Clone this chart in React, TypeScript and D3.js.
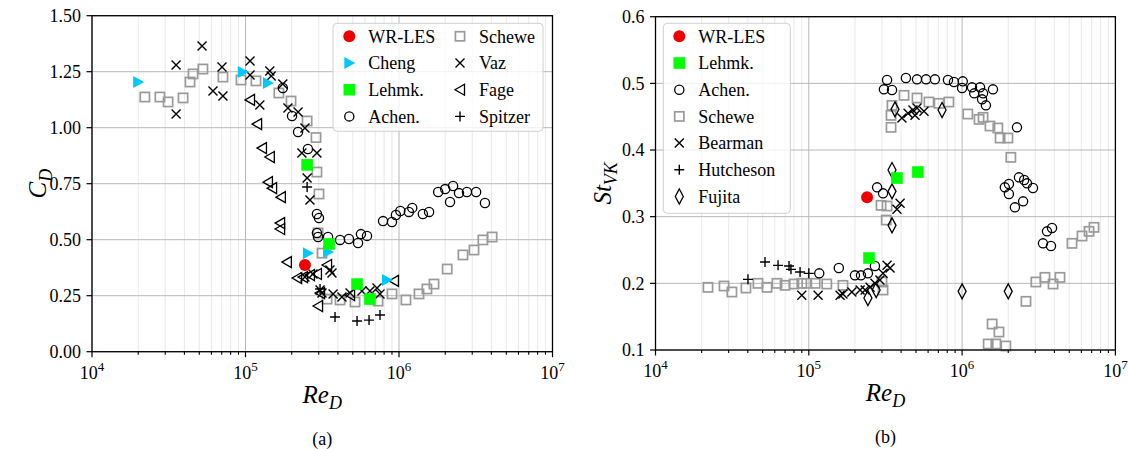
import * as d3 from 'd3';
import React from 'react';

type Pt = [number, number];

// ---------- (a) drag coefficient C_D vs Re_D
const cdWrLes: Pt[] = [[2.44e5, 0.387]];
const cdCheng: Pt[] = [[2.0e4, 1.204], [9.6e4, 1.249], [1.4e5, 1.2], [2.55e5, 0.44], [3.45e5, 0.445], [8.35e5, 0.32]];
const cdLehmk: Pt[] = [[2.52e5, 0.834], [3.5e5, 0.481], [5.33e5, 0.302], [6.47e5, 0.235]];
const cdAchen: Pt[] = [
  [1.75e5, 1.177], [2.01e5, 1.052], [2.2e5, 0.981], [2.55e5, 0.905], [2.92e5, 0.615], [3.01e5, 0.597],
  [2.92e5, 0.53], [2.97e5, 0.512], [3.45e5, 0.512], [4.13e5, 0.499], [4.72e5, 0.503], [5.41e5, 0.485],
  [5.65e5, 0.525], [6.19e5, 0.517], [7.87e5, 0.583], [9.0e5, 0.579], [9.55e5, 0.61], [1.02e6, 0.628],
  [1.16e6, 0.624], [1.22e6, 0.642], [1.43e6, 0.615], [1.57e6, 0.624], [1.8e6, 0.713], [2.0e6, 0.726],
  [2.25e6, 0.74], [2.15e6, 0.668], [2.46e6, 0.708], [2.77e6, 0.713], [3.18e6, 0.713], [3.63e6, 0.664],
];
const cdSchewe: Pt[] = [
  [2.21e4, 1.137], [2.77e4, 1.137], [3.13e4, 1.115], [3.92e4, 1.133], [4.35e4, 1.204], [4.55e4, 1.24],
  [5.28e4, 1.262], [7.13e4, 1.226], [9.35e4, 1.213], [1.17e5, 1.209], [1.65e5, 1.155], [1.98e5, 1.119],
  [2.52e5, 1.03], [2.88e5, 0.956], [2.92e5, 0.802], [3.01e5, 0.704], [2.97e5, 0.53], [3.15e5, 0.44],
  [3.4e5, 0.235], [4.13e5, 0.231], [5.17e5, 0.222], [7.3e5, 0.226], [9.0e5, 0.258], [1.11e6, 0.231],
  [1.35e6, 0.258], [1.52e6, 0.28], [1.69e6, 0.302], [2.06e6, 0.369], [2.61e6, 0.432], [3.08e6, 0.454],
  [3.52e6, 0.499], [4.04e6, 0.512],
];
const cdVaz: Pt[] = [
  [3.53e4, 1.28], [3.53e4, 1.061], [5.21e4, 1.365], [6.14e4, 1.164], [7.03e4, 1.271], [7.13e4, 1.142],
  [1.07e5, 1.298], [1.07e5, 1.235], [1.24e5, 1.101], [1.44e5, 1.253], [1.47e5, 1.231], [1.75e5, 1.195],
  [1.89e5, 1.088], [2.2e5, 1.07], [2.44e5, 0.999], [2.33e5, 0.887], [2.92e5, 0.887], [2.52e5, 0.775],
  [2.63e5, 0.677], [2.44e5, 0.333], [2.75e5, 0.347], [3.55e5, 0.365], [3.66e5, 0.351], [3.06e5, 0.275],
  [3.15e5, 0.262], [3.72e5, 0.258], [4.25e5, 0.244], [4.8e5, 0.262], [5.74e5, 0.271], [6.47e5, 0.271],
  [7.19e5, 0.284], [7.52e5, 0.258],
];
const cdFage: Pt[] = [
  [1.07e5, 1.124], [1.19e5, 1.016], [1.28e5, 0.909], [1.44e5, 0.869], [1.4e5, 0.757], [1.49e5, 0.73],
  [1.7e5, 0.69], [1.68e5, 0.574], [1.68e5, 0.548], [1.86e5, 0.4], [2.17e5, 0.329], [2.37e5, 0.333],
  [2.63e5, 0.342], [2.92e5, 0.347], [3.4e5, 0.387], [3.06e5, 0.262], [2.97e5, 0.204], [4.8e5, 0.253],
  [9.27e5, 0.316],
];
const cdSpitzer: Pt[] = [[2.52e5, 0.735], [3.06e5, 0.28], [3.83e5, 0.155], [5.33e5, 0.137], [6.38e5, 0.141], [7.52e5, 0.164]];

// ---------- (b) Strouhal number St_VK vs Re_D
const stWrLes: Pt[] = [[2.4e5, 0.329]];
const stLehmk: Pt[] = [[2.47e5, 0.238], [3.76e5, 0.358], [5.15e5, 0.367]];
const stAchen: Pt[] = [
  [1.17e5, 0.215], [1.57e5, 0.223], [2.0e5, 0.212], [2.19e5, 0.212], [2.43e5, 0.215], [2.7e5, 0.226],
  [2.79e5, 0.344], [3.05e5, 0.335],
  [3.24e5, 0.505], [3.09e5, 0.491], [3.49e5, 0.49], [4.3e5, 0.508], [5.08e5, 0.506], [5.82e5, 0.506],
  [6.65e5, 0.506], [8.09e5, 0.505], [8.85e5, 0.502], [1.01e6, 0.503], [1.0e6, 0.493], [1.16e6, 0.494],
  [1.2e6, 0.485], [1.31e6, 0.494], [1.37e6, 0.485], [1.35e6, 0.476], [1.59e6, 0.491], [1.43e6, 0.467],
  [2.28e6, 0.434],
  [1.9e6, 0.344], [2.02e6, 0.349], [2.02e6, 0.334], [2.35e6, 0.359], [2.54e6, 0.355], [2.65e6, 0.35],
  [2.9e6, 0.343], [2.5e6, 0.323], [2.21e6, 0.314], [3.58e6, 0.278], [3.86e6, 0.283], [3.37e6, 0.26],
  [3.8e6, 0.256],
];
const stSchewe: Pt[] = [
  [2.2e4, 0.194], [2.8e4, 0.196], [3.15e4, 0.187], [3.89e4, 0.193], [4.66e4, 0.2], [5.34e4, 0.194],
  [6.2e4, 0.2], [7.0e4, 0.197], [8.0e4, 0.199], [9.0e4, 0.2], [9.7e4, 0.2], [1.1e5, 0.2], [1.31e5, 0.199],
  [1.67e5, 0.197], [3.05e5, 0.19], [3.0e5, 0.202], [2.96e5, 0.317], [3.24e5, 0.316], [3.2e5, 0.295],
  [3.44e5, 0.452], [3.44e5, 0.434], [3.49e5, 0.467], [4.18e5, 0.482], [5.08e5, 0.478], [6.08e5, 0.472],
  [7.07e5, 0.47], [8.2e5, 0.472], [1.09e6, 0.454], [1.29e6, 0.446], [1.37e6, 0.449], [1.52e6, 0.436],
  [1.71e6, 0.433], [1.77e6, 0.418], [1.99e6, 0.418], [2.08e6, 0.389],
  [2.61e6, 0.173], [3.03e6, 0.202], [3.47e6, 0.209], [3.92e6, 0.199], [4.35e6, 0.209], [5.21e6, 0.26],
  [6.06e6, 0.271], [6.73e6, 0.278], [7.25e6, 0.284],
  [1.57e6, 0.139], [1.74e6, 0.127], [1.48e6, 0.109], [1.66e6, 0.109], [1.93e6, 0.106],
];
const stBearman: Pt[] = [
  [9.0e4, 0.182], [1.15e5, 0.182], [1.6e5, 0.182], [1.67e5, 0.184], [1.91e5, 0.187], [2.16e5, 0.19],
  [2.33e5, 0.19], [2.51e5, 0.194], [2.7e5, 0.2], [2.91e5, 0.205], [3.05e5, 0.215], [3.24e5, 0.227],
  [3.39e5, 0.223], [3.94e5, 0.32], [3.76e5, 0.311],
  [4.05e5, 0.448], [4.44e5, 0.455], [4.78e5, 0.46], [5.08e5, 0.463], [5.64e5, 0.458], [4.93e5, 0.452],
];
const stHutcheson: Pt[] = [[4.01e4, 0.206], [5.18e4, 0.232], [6.3e4, 0.227], [7.43e4, 0.226], [7.65e4, 0.221], [8.77e4, 0.217], [1.0e5, 0.215]];
const stFujita: Pt[] = [
  [3.49e5, 0.37], [3.49e5, 0.338], [3.49e5, 0.287], [3.65e5, 0.461], [7.4e5, 0.46],
  [2.43e5, 0.178], [2.75e5, 0.19], [1.0e6, 0.188], [2.0e6, 0.188],
];

const cdTicks = [0, 0.25, 0.5, 0.75, 1.0, 1.25, 1.5];
const stTicks = [0.1, 0.2, 0.3, 0.4, 0.5, 0.6];
const reDecades = [4, 5, 6, 7];

const FONT = "'Liberation Serif', 'DejaVu Serif', serif";
const CYAN = '#00c8ff';
const GREEN = '#00ff00';
const RED = '#ee0000';
const GREY = '#9a9a9a';

type Kind = 'dot' | 'tri' | 'sqf' | 'circ' | 'sq' | 'x' | 'ltri' | 'plus' | 'dia';

function Marker({ kind, x, y }: { kind: Kind; x: number; y: number }) {
  switch (kind) {
    case 'dot':
      return <circle cx={x} cy={y} r={6} fill={RED} />;
    case 'tri':
      return <path d={`M${x - 5},${y - 6}L${x + 6},${y}L${x - 5},${y + 6}Z`} fill={CYAN} />;
    case 'sqf':
      return <rect x={x - 5.8} y={y - 5.8} width={11.6} height={11.6} fill={GREEN} />;
    case 'circ':
      return <circle cx={x} cy={y} r={4.6} fill="none" stroke="#000" strokeWidth={1.3} />;
    case 'sq':
      return <rect x={x - 4.6} y={y - 4.6} width={9.2} height={9.2} fill="none" stroke={GREY} strokeWidth={1.7} />;
    case 'x':
      return <path d={`M${x - 4.5},${y - 4.5}L${x + 4.5},${y + 4.5}M${x - 4.5},${y + 4.5}L${x + 4.5},${y - 4.5}`} stroke="#000" strokeWidth={1.4} />;
    case 'ltri':
      return <path d={`M${x + 4.5},${y - 5.5}L${x - 5},${y}L${x + 4.5},${y + 5.5}Z`} fill="none" stroke="#000" strokeWidth={1.3} strokeLinejoin="miter" />;
    case 'plus':
      return <path d={`M${x - 5},${y}L${x + 5},${y}M${x},${y - 5}L${x},${y + 5}`} stroke="#000" strokeWidth={1.4} />;
    case 'dia':
      return <path d={`M${x},${y - 7.5}L${x + 4},${y}L${x},${y + 7.5}L${x - 4},${y}Z`} fill="none" stroke="#000" strokeWidth={1.3} />;
  }
}

interface Series { label: string; kind: Kind; data: Pt[]; }

interface PanelProps {
  x0: number; x1: number; yTop: number; yBot: number;
  yDomain: [number, number]; yTicks: number[]; yFmt: (v: number) => string;
  series: Series[]; legend: { label: string; kind: Kind; col: number; row: number }[];
  legendBox: { x: number; y: number; w: number; h: number; colX: number[] };
  yLabel: React.ReactNode; yLabelX: number; tag: string;
}

function Panel(p: PanelProps) {
  const x = d3.scaleLog().domain([1e4, 1e7]).range([p.x0, p.x1]);
  const y = d3.scaleLinear().domain(p.yDomain).range([p.yBot, p.yTop]);
  const minors: number[] = [];
  reDecades.slice(0, 3).forEach(e => { for (let k = 2; k <= 9; k++) minors.push(k * Math.pow(10, e)); });
  const cx = (p.x0 + p.x1) / 2;
  return (
    <g>
      {minors.map(v => <line key={'m' + v} x1={x(v)} x2={x(v)} y1={p.yTop} y2={p.yBot} stroke="#e6e6e6" strokeWidth={0.9} />)}
      {reDecades.map(e => <line key={'M' + e} x1={x(10 ** e)} x2={x(10 ** e)} y1={p.yTop} y2={p.yBot} stroke="#b8b8b8" strokeWidth={1} />)}
      {p.yTicks.map(t => <line key={'y' + t} x1={p.x0} x2={p.x1} y1={y(t)} y2={y(t)} stroke="#b8b8b8" strokeWidth={1} />)}

      {p.series.map(s => (
        <g key={s.label}>
          {s.data.map((d, i) => <Marker key={i} kind={s.kind} x={x(d[0])} y={y(d[1])} />)}
        </g>
      ))}

      <rect x={p.x0} y={p.yTop} width={p.x1 - p.x0} height={p.yBot - p.yTop} fill="none" stroke="#000" strokeWidth={1.3} />

      {/* ticks and labels */}
      {minors.map(v => <line key={'tm' + v} x1={x(v)} x2={x(v)} y1={p.yBot} y2={p.yBot + 3} stroke="#000" strokeWidth={1.1} />)}
      {reDecades.map(e => (
        <g key={'tx' + e}>
          <line x1={x(10 ** e)} x2={x(10 ** e)} y1={p.yBot} y2={p.yBot + 5.5} stroke="#000" strokeWidth={1.2} />
          <text x={x(10 ** e)} y={p.yBot + 27} textAnchor="middle" fontSize={18} fontFamily={FONT}>
            10<tspan fontSize={13} dy={-8}>{e}</tspan>
          </text>
        </g>
      ))}
      {p.yTicks.map(t => (
        <g key={'ty' + t}>
          <line x1={p.x0 - 5.5} x2={p.x0} y1={y(t)} y2={y(t)} stroke="#000" strokeWidth={1.2} />
          <text x={p.x0 - 11} y={y(t)} dy="0.35em" textAnchor="end" fontSize={18} fontFamily={FONT}>{p.yFmt(t)}</text>
        </g>
      ))}

      <text x={cx} y={p.yBot + 51} textAnchor="middle" fontSize={25} fontFamily={FONT} fontStyle="italic">
        Re<tspan fontSize={18} dy={6}>D</tspan>
      </text>
      <text x={cx} y={p.yBot + 93} textAnchor="middle" fontSize={18} fontFamily={FONT}>{p.tag}</text>
      <text transform={`translate(${p.yLabelX},${(p.yTop + p.yBot) / 2}) rotate(-90)`} textAnchor="middle" fontSize={25} fontFamily={FONT} fontStyle="italic">
        {p.yLabel}
      </text>

      {/* legend */}
      <rect x={p.legendBox.x} y={p.legendBox.y} width={p.legendBox.w} height={p.legendBox.h} rx={4}
        fill="#fff" fillOpacity={0.8} stroke="#d0d0d0" strokeWidth={1} />
      {p.legend.map(l => {
        const mx = p.legendBox.colX[l.col];
        const my = p.legendBox.y + 13 + l.row * 26.7;
        return (
          <g key={l.label}>
            <Marker kind={l.kind} x={mx} y={my} />
            <text x={mx + 19} y={my} dy="0.35em" fontSize={18} fontFamily={FONT}>{l.label}</text>
          </g>
        );
      })}
    </g>
  );
}

export default function App() {
  const left: Series[] = [
    { label: 'Schewe', kind: 'sq', data: cdSchewe },
    { label: 'Achen.', kind: 'circ', data: cdAchen },
    { label: 'Vaz', kind: 'x', data: cdVaz },
    { label: 'Fage', kind: 'ltri', data: cdFage },
    { label: 'Spitzer', kind: 'plus', data: cdSpitzer },
    { label: 'Cheng', kind: 'tri', data: cdCheng },
    { label: 'Lehmk.', kind: 'sqf', data: cdLehmk },
    { label: 'WR-LES', kind: 'dot', data: cdWrLes },
  ];
  const right: Series[] = [
    { label: 'Schewe', kind: 'sq', data: stSchewe },
    { label: 'Achen.', kind: 'circ', data: stAchen },
    { label: 'Bearman', kind: 'x', data: stBearman },
    { label: 'Hutcheson', kind: 'plus', data: stHutcheson },
    { label: 'Fujita', kind: 'dia', data: stFujita },
    { label: 'Lehmk.', kind: 'sqf', data: stLehmk },
    { label: 'WR-LES', kind: 'dot', data: stWrLes },
  ];
  return (
    <svg width={1128} height={449} style={{ position: 'absolute', left: 0, top: 0, background: '#fff' }}>
      <Panel x0={92} x1={552.5} yTop={15.7} yBot={351.7} yDomain={[0, 1.5]} yTicks={cdTicks} yFmt={d3.format('.2f')}
        series={left}
        legend={[
          { label: 'WR-LES', kind: 'dot', col: 0, row: 0 }, { label: 'Cheng', kind: 'tri', col: 0, row: 1 },
          { label: 'Lehmk.', kind: 'sqf', col: 0, row: 2 }, { label: 'Achen.', kind: 'circ', col: 0, row: 3 },
          { label: 'Schewe', kind: 'sq', col: 1, row: 0 }, { label: 'Vaz', kind: 'x', col: 1, row: 1 },
          { label: 'Fage', kind: 'ltri', col: 1, row: 2 }, { label: 'Spitzer', kind: 'plus', col: 1, row: 3 },
        ]}
        legendBox={{ x: 333, y: 23.3, w: 210, h: 108, colX: [349.3, 460] }}
        yLabel={<>C<tspan fontSize={18} dy={6}>D</tspan></>} yLabelX={46} tag="(a)" />
      <Panel x0={655.5} x1={1115.4} yTop={16.7} yBot={350} yDomain={[0.1, 0.6]} yTicks={stTicks} yFmt={d3.format('.1f')}
        series={right}
        legend={[
          { label: 'WR-LES', kind: 'dot', col: 0, row: 0 }, { label: 'Lehmk.', kind: 'sqf', col: 0, row: 1 },
          { label: 'Achen.', kind: 'circ', col: 0, row: 2 }, { label: 'Schewe', kind: 'sq', col: 0, row: 3 },
          { label: 'Bearman', kind: 'x', col: 0, row: 4 }, { label: 'Hutcheson', kind: 'plus', col: 0, row: 5 },
          { label: 'Fujita', kind: 'dia', col: 0, row: 6 },
        ]}
        legendBox={{ x: 663.3, y: 23.3, w: 127, h: 190, colX: [679.3] }}
        yLabel={<>St<tspan fontSize={18} dy={6}>VK</tspan></>} yLabelX={611} tag="(b)" />
    </svg>
  );
}
